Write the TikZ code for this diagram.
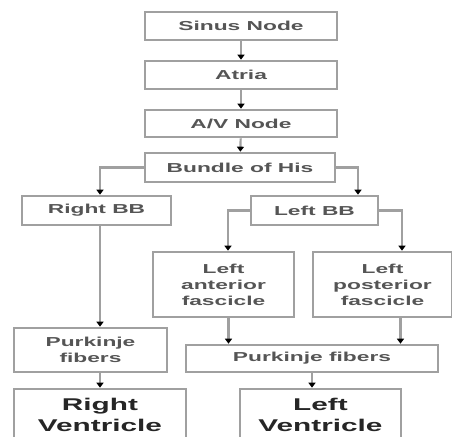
\documentclass[tikz,border=0pt]{standalone}
\usepackage{fontspec}
\newfontfamily\chartfont[FakeStretch=1.75]{Liberation Sans}
\usetikzlibrary{arrows.meta}
\definecolor{boxgray}{HTML}{A0A0A0}
\definecolor{textgray}{HTML}{555555}
\tikzset{
  stage/.style={draw=boxgray, line width=2.6pt, fill=white, inner sep=0pt, align=center,
    text=textgray, font=\chartfont\bfseries\fontsize{13}{16}\selectfont},
  ventricle/.style={stage, text=black!85, font=\chartfont\bfseries\fontsize{17}{21}\selectfont},
  link/.style={draw=boxgray, line width=2.2pt, -{Triangle[color=black,width=7pt,length=5pt]}},
}
\begin{document}
\begin{tikzpicture}[x=1pt, y=-1pt]
    \useasboundingbox (0,0) rectangle (452,436);
    \clip (0,0) rectangle (452,436);
    \fill[white] (0,0) rectangle (452,436);

    % Main conduction path
    \node[stage, minimum width=192pt, minimum height=28pt] (sinus) at (241,26) {Sinus Node};
    \node[stage, minimum width=192pt, minimum height=28pt] (atria) at (241,75) {Atria};
    \node[stage, minimum width=192pt, minimum height=27pt] (av) at (241,123.5) {A/V Node};
    \node[stage, minimum width=190pt, minimum height=29pt] (his) at (240,167.5) {Bundle of His};

    % Bundle branches
    \node[stage, minimum width=149pt, minimum height=29pt] (rbb) at (96.5,210.5) {Right BB};
    \node[stage, minimum width=127pt, minimum height=29pt] (lbb) at (314.5,210.5) {Left BB};

    % Left fascicles
    \node[stage, minimum width=141pt, minimum height=65pt] (lant) at (223.5,284.5) {Left\\anterior\\fascicle};
    \node[stage, minimum width=139pt, minimum height=65pt] (lpost) at (382.5,284.5) {Left\\posterior\\fascicle};

    % Purkinje fibers
    \node[stage, minimum width=153pt, minimum height=44pt] (rpf) at (90.5,350) {Purkinje\\fibers};
    \node[stage, minimum width=252pt, minimum height=27pt] (lpf) at (312,358.5) {Purkinje fibers};

    % Ventricles
    \node[ventricle, minimum width=172pt, minimum height=52pt] (rv) at (100,415) {Right\\Ventricle};
    \node[ventricle, minimum width=161pt, minimum height=52pt] (lv) at (320.5,415) {Left\\Ventricle};

    % Connectors
    \draw[link] (sinus) -- (atria);
    \draw[link] (atria) -- (av);
    \draw[link] (av) -- (his);
    \draw[link] (his.west) -| ([xshift=3.5pt]rbb.north);
    \draw[link] (his.east) -| ([xshift=43.5pt]lbb.north);
    \draw[link] (lbb.west) -| ([xshift=4.5pt]lant.north);
    \draw[link] (lbb.east) -| ([xshift=19.5pt]lpost.north);
    \draw[link] ([xshift=3.5pt]rbb.south) -- ([xshift=9.5pt]rpf.north);
    \draw[link] ([xshift=5pt]lant.south) -- ([xshift=5pt]lant.south |- lpf.north);
    \draw[link] ([xshift=18pt]lpost.south) -- ([xshift=18pt]lpost.south |- lpf.north);
    \draw[link] ([xshift=9.5pt]rpf.south) -- ([xshift=9.5pt]rpf.south |- rv.north);
    \draw[link] (lpf.south) -- (lpf.south |- lv.north);
\end{tikzpicture}
\end{document}
